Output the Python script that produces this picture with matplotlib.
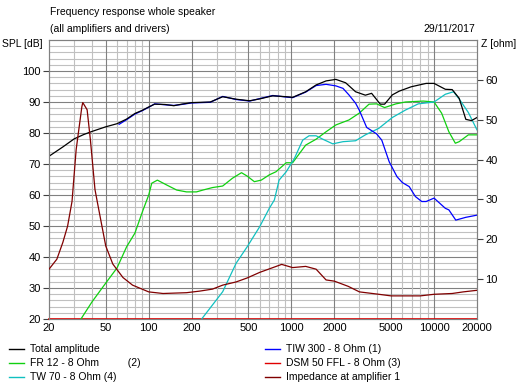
import matplotlib
matplotlib.use("Agg")
import matplotlib.pyplot as plt
import numpy as np

plt.rcParams['font.family'] = ['Liberation Sans', 'DejaVu Sans']
plt.rcParams['font.size'] = 7.5

# ---- data ----
total_f = [20, 25, 30, 35, 40, 50, 60, 70, 80, 90, 100, 110, 130, 150, 170, 200, 270, 330,
           410, 510, 600, 740, 920, 1020, 1260, 1490, 1750, 2050, 2400, 2820, 3300, 3650,
           4200, 4500, 5100, 5700, 6900, 8800, 10000, 12000, 13400, 15000, 16700, 18300, 20000]
total_db = [72.5, 75.5, 78.1, 79.5, 80.5, 82, 83, 84.5, 86.3, 87.3, 88.4, 89.3, 89.2, 88.8, 89.3,
            89.8, 90, 91.7, 90.9, 90.4, 91, 92, 91.7, 91.5, 93.3, 95.5, 96.8, 97.3, 96.2, 93.3,
            92.2, 92.8, 89.3, 89.3, 92.3, 93.5, 94.9, 96, 96, 94.1, 94, 91.2, 84.4, 84, 85]

tiw_f = [62, 70, 80, 90, 100, 110, 130, 150, 170, 200, 270, 330, 410, 510, 600, 740, 920,
         1020, 1260, 1490, 1750, 2050, 2300, 2530, 2820, 2990, 3370, 3960, 4300, 4850, 5500,
         6000, 6700, 7400, 8200, 8800, 10000, 12000, 12700, 14200, 16700, 20000]
tiw_db = [82.8, 84.3, 86.1, 87.2, 88.3, 89.4, 89.1, 88.9, 89.2, 89.7, 89.9, 91.8, 90.8, 90.3,
          91.1, 92.1, 91.6, 91.4, 93.2, 95.3, 95.7, 95.2, 94.4, 92.3, 89.6, 87.4, 81.8, 79.7,
          77.7, 70.7, 65.9, 64, 62.7, 59.5, 57.9, 57.9, 59, 55.7, 55.2, 51.9, 52.8, 53.5]

fr12_f = [33.5, 40, 50, 60, 70, 80, 91, 100, 105, 115, 134, 157, 184, 216, 240, 280, 330,
          386, 447, 490, 550, 615, 700, 780, 920, 1020, 1140, 1260, 1490, 1750, 2050, 2530,
          2990, 3500, 3960, 4500, 5400, 6300, 8400, 10000, 11300, 12700, 14100, 15000, 17400, 20000]
fr12_db = [20, 25.5, 31.6, 36.5, 43.3, 47.7, 55, 60, 63.8, 64.8, 63.2, 61.6, 61, 61, 61.6,
           62.4, 62.9, 65.4, 67.2, 66.1, 64.3, 64.8, 66.5, 67.5, 70.4, 70.4, 73.4, 76.1, 78,
           80.4, 82.6, 84.2, 86.4, 89.3, 89.4, 88.2, 89.4, 90, 90.3, 90, 86.4, 80.4, 76.7, 77.2,
           79.4, 79.4]

tw70_f = [235, 330, 410, 490, 600, 700, 760, 820, 920, 1050, 1200, 1330, 1490, 1660, 1950,
          2300, 2820, 3300, 4100, 5100, 6300, 7750, 10000, 12000, 13700, 15200, 17400, 20000]
tw70_db = [20, 28.8, 38, 43.3, 49.8, 55.7, 58.4, 64.8, 67.5, 71.8, 77.7, 79.1, 79.1, 78,
           76.5, 77.2, 77.5, 79.4, 81.5, 85, 87.4, 89.4, 90, 92.5, 93.3, 90.6, 86.6, 81]

dsm_f = [20, 20000]
dsm_db = [20, 20]

imp_f = [20, 22.7, 25, 27, 29, 31, 34, 34.5, 37, 39, 42, 43.5, 47, 50, 56, 66, 77, 100,
         126, 184, 228, 280, 330, 410, 490, 600, 855, 1020, 1260, 1490, 1750, 2000, 2500,
         3000, 4000, 5000, 8000, 10000, 13400, 16000, 20000]
imp_z = [12.5, 15, 19.2, 23.3, 29.5, 42.5, 53.3, 54.3, 52.5, 45, 32.5, 29.6, 23.3, 18.3, 13.8,
         10.4, 8.5, 6.8, 6.4, 6.6, 7.0, 7.5, 8.5, 9.3, 10.3, 11.7, 13.7, 12.9, 13.2, 12.5, 9.8,
         9.5, 8.2, 6.8, 6.25, 5.8, 5.8, 6.2, 6.4, 6.8, 7.2]

x_ticks = [20, 50, 100, 200, 500, 1000, 2000, 5000, 10000, 20000]
x_minor = [30, 40, 60, 70, 80, 90, 300, 400, 600, 700, 800, 900,
           3000, 4000, 6000, 7000, 8000, 9000]

fig = plt.figure(figsize=(5.25, 3.82), dpi=100)
ax = fig.add_axes([49 / 525, 1 - 319 / 382, 428 / 525, 279 / 382])
ax2 = ax.twinx()

ax.set_xscale('log')
ax.set_xlim(20, 20000)
ax.set_ylim(20, 110)
ax2.set_ylim(0, 70)

major_c = '#808080'
minor_c = '#c0c0c0'
for y in range(22, 110, 2):
    ax.axhline(y, color=major_c if y % 10 == 0 else minor_c, lw=0.8, zorder=0)
for f in x_minor:
    ax.axvline(f, color=minor_c, lw=0.8, zorder=0)
for f in x_ticks[1:-1]:
    ax.axvline(f, color=major_c, lw=0.8, zorder=0)

ax.set_xticks(x_ticks)
ax.set_xticklabels([str(t) for t in x_ticks])
ax.xaxis.set_minor_locator(matplotlib.ticker.NullLocator())
ax.tick_params(axis='x', length=0, pad=3, labelsize=8)
ax.set_yticks(range(20, 101, 10))
ax.tick_params(axis='y', length=4, width=0.8, color='#404040', pad=2, labelsize=8)
ax2.set_yticks(range(10, 61, 10))
ax2.tick_params(axis='y', length=4, width=0.8, color='#404040', pad=2, labelsize=8)

for a in (ax, ax2):
    for s in a.spines.values():
        s.set_color(major_c)
        s.set_linewidth(0.8)

lw = 0.9
l_dsm, = ax.plot(dsm_f, dsm_db, color='#e00000', lw=1.2, clip_on=False, zorder=3)
l_fr, = ax.plot(fr12_f, fr12_db, color='#10d010', lw=lw, zorder=3)
l_tw, = ax.plot(tw70_f, tw70_db, color='#10c0c0', lw=lw, zorder=3)
l_tiw, = ax.plot(tiw_f, tiw_db, color='#0000ff', lw=lw, zorder=4)
l_tot, = ax.plot(total_f, total_db, color='black', lw=lw, zorder=5)
l_imp, = ax2.plot(imp_f, imp_z, color='#800000', lw=lw, zorder=3)

fig.text(50 / 525, 1 - 12 / 382, 'Frequency response whole speaker', va='center', ha='left')
fig.text(50 / 525, 1 - 29 / 382, '(all amplifiers and drivers)', va='center', ha='left')
fig.text(475 / 525, 1 - 29 / 382, '29/11/2017', va='center', ha='right')
fig.text(2 / 525, 1 - 44 / 382, 'SPL [dB]', va='center', ha='left')
fig.text(481 / 525, 1 - 44 / 382, 'Z [ohm]', va='center', ha='left')

legend = [
    (l_tot, 'Total amplitude', 9, 349),
    (l_fr, 'FR 12 - 8 Ohm          (2)', 9, 363),
    (l_tw, 'TW 70 - 8 Ohm (4)', 9, 377),
    (l_tiw, 'TIW 300 - 8 Ohm (1)', 265, 349),
    (l_dsm, 'DSM 50 FFL - 8 Ohm (3)', 265, 363),
    (l_imp, 'Impedance at amplifier 1', 265, 377),
]
for line, label, x0, y0 in legend:
    yy = 1 - y0 / 382
    fig.add_artist(matplotlib.lines.Line2D([x0 / 525, (x0 + 15) / 525], [yy, yy],
                                           color=line.get_color(), lw=1))
    fig.text((x0 + 21) / 525, yy, label, va='center', ha='left')

fig.savefig('out.png', dpi=100)
